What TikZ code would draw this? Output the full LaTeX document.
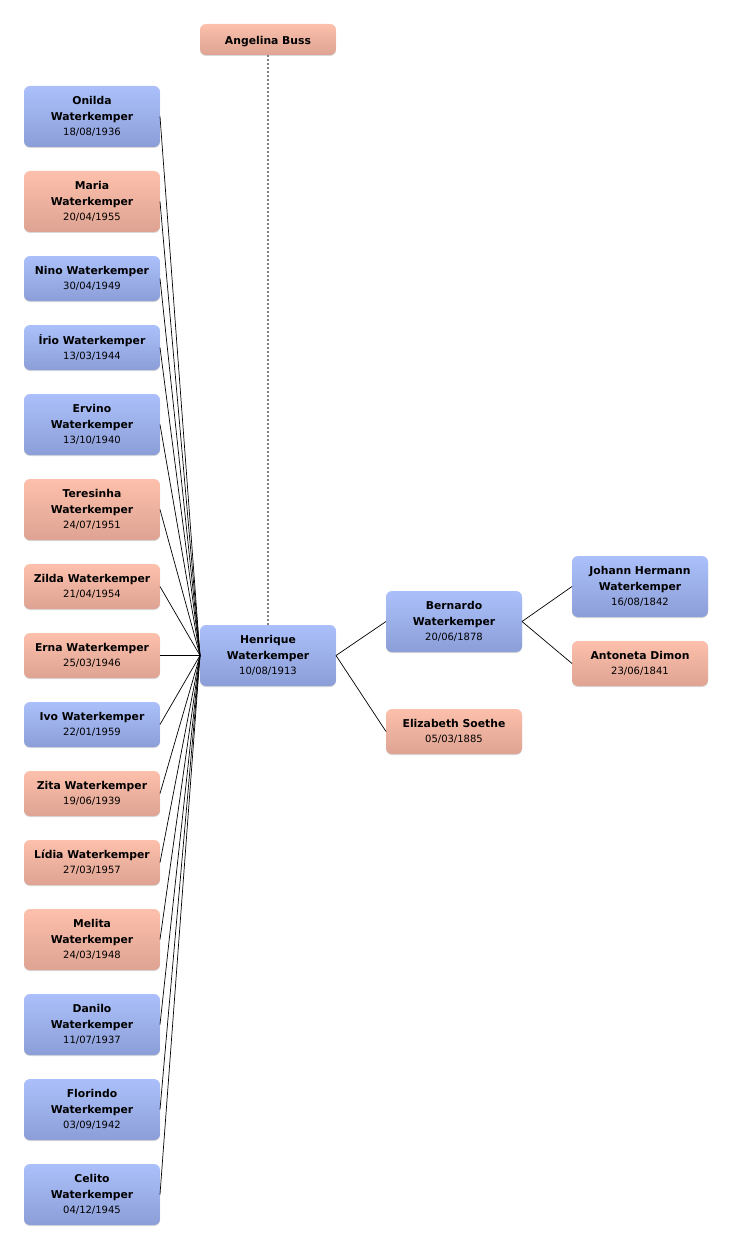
\documentclass[tikz,border=0pt]{standalone}
\usepackage{fontspec}
\setmainfont{DejaVu Sans}
\usetikzlibrary{positioning,shadows}

\definecolor{maletop}{RGB}{171,192,250}
\definecolor{malebottom}{RGB}{140,158,216}
\definecolor{femaletop}{RGB}{252,192,172}
\definecolor{femalebottom}{RGB}{222,163,146}

\newcommand\birth[1]{{\fontsize{10}{13}\selectfont\mdseries #1}}

\begin{document}
\begin{tikzpicture}[x=1pt,y=-1pt,node distance=24pt,
  person/.style={rectangle,rounded corners=6pt,minimum width=136pt,
  align=center,inner sep=2pt,outer sep=0pt,
  font=\fontsize{10.8}{16}\selectfont\bfseries,
  execute at begin node=\rule{0pt}{12pt},
  drop shadow={shadow xshift=0pt,shadow yshift=-1pt,opacity=.3}},
  male/.style={person,top color=maletop,bottom color=malebottom},
  female/.style={person,top color=femaletop,bottom color=femalebottom},
  tall/.style={minimum height=61pt},
  short/.style={minimum height=45pt}]

  \useasboundingbox (0,0) rectangle (732,1249);

  %Children of Henrique, from top to bottom
  \node[male,tall] (onilda) at (92,116.5) {Onilda\\Waterkemper\\[-1pt]\birth{18/08/1936}};
  \node[female,tall] (maria) [below=of onilda] {Maria\\Waterkemper\\[-1pt]\birth{20/04/1955}};
  \node[male,short] (nino) [below=of maria] {Nino Waterkemper\\[-1pt]\birth{30/04/1949}};
  \node[male,short] (irio) [below=of nino] {Írio Waterkemper\\[-1pt]\birth{13/03/1944}};
  \node[male,tall] (ervino) [below=of irio] {Ervino\\Waterkemper\\[-1pt]\birth{13/10/1940}};
  \node[female,tall] (teresinha) [below=of ervino] {Teresinha\\Waterkemper\\[-1pt]\birth{24/07/1951}};
  \node[female,short] (zilda) [below=of teresinha] {Zilda Waterkemper\\[-1pt]\birth{21/04/1954}};
  \node[female,short] (erna) [below=of zilda] {Erna Waterkemper\\[-1pt]\birth{25/03/1946}};
  \node[male,short] (ivo) [below=of erna] {Ivo Waterkemper\\[-1pt]\birth{22/01/1959}};
  \node[female,short] (zita) [below=of ivo] {Zita Waterkemper\\[-1pt]\birth{19/06/1939}};
  \node[female,short] (lidia) [below=of zita] {Lídia Waterkemper\\[-1pt]\birth{27/03/1957}};
  \node[female,tall] (melita) [below=of lidia] {Melita\\Waterkemper\\[-1pt]\birth{24/03/1948}};
  \node[male,tall] (danilo) [below=of melita] {Danilo\\Waterkemper\\[-1pt]\birth{11/07/1937}};
  \node[male,tall] (florindo) [below=of danilo] {Florindo\\Waterkemper\\[-1pt]\birth{03/09/1942}};
  \node[male,tall] (celito) [below=of florindo] {Celito\\Waterkemper\\[-1pt]\birth{04/12/1945}};

  %Henrique, his wife and his ancestors
  \node[male,tall] (henrique) at (268,655.5) {Henrique\\Waterkemper\\[-1pt]\birth{10/08/1913}};
  \node[female,minimum height=31pt] (angelina) at (268,39.5) {Angelina Buss};
  \node[male,tall] (bernardo) [right=50pt of henrique,yshift=34pt] {Bernardo\\Waterkemper\\[-1pt]\birth{20/06/1878}};
  \node[female,short] (elizabeth) [right=50pt of henrique,yshift=-76pt] {Elizabeth Soethe\\[-1pt]\birth{05/03/1885}};
  \node[male,tall] (johann) [right=50pt of bernardo,yshift=35pt] {Johann Hermann\\Waterkemper\\[-1pt]\birth{16/08/1842}};
  \node[female,short] (antoneta) [right=50pt of bernardo,yshift=-42pt] {Antoneta Dimon\\[-1pt]\birth{23/06/1841}};

  \path[every edge/.style={draw,line width=.7pt}]

    %Shows each child linked to the father
    (onilda.east) edge (henrique.west)
    (maria.east) edge (henrique.west)
    (nino.east) edge (henrique.west)
    (irio.east) edge (henrique.west)
    (ervino.east) edge (henrique.west)
    (teresinha.east) edge (henrique.west)
    (zilda.east) edge (henrique.west)
    (erna.east) edge (henrique.west)
    (ivo.east) edge (henrique.west)
    (zita.east) edge (henrique.west)
    (lidia.east) edge (henrique.west)
    (melita.east) edge (henrique.west)
    (danilo.east) edge (henrique.west)
    (florindo.east) edge (henrique.west)
    (celito.east) edge (henrique.west)

    %Shows the parents of Henrique and of Bernardo
    (henrique.east) edge (bernardo.west)
    (henrique.east) edge (elizabeth.west)
    (bernardo.east) edge (johann.west)
    (bernardo.east) edge (antoneta.west);

  %Marriage is drawn dotted
  \draw[gray,line width=1.2pt,dash pattern=on 2pt off 2pt] (angelina.south) -- (henrique.north);

\end{tikzpicture}
\end{document}
